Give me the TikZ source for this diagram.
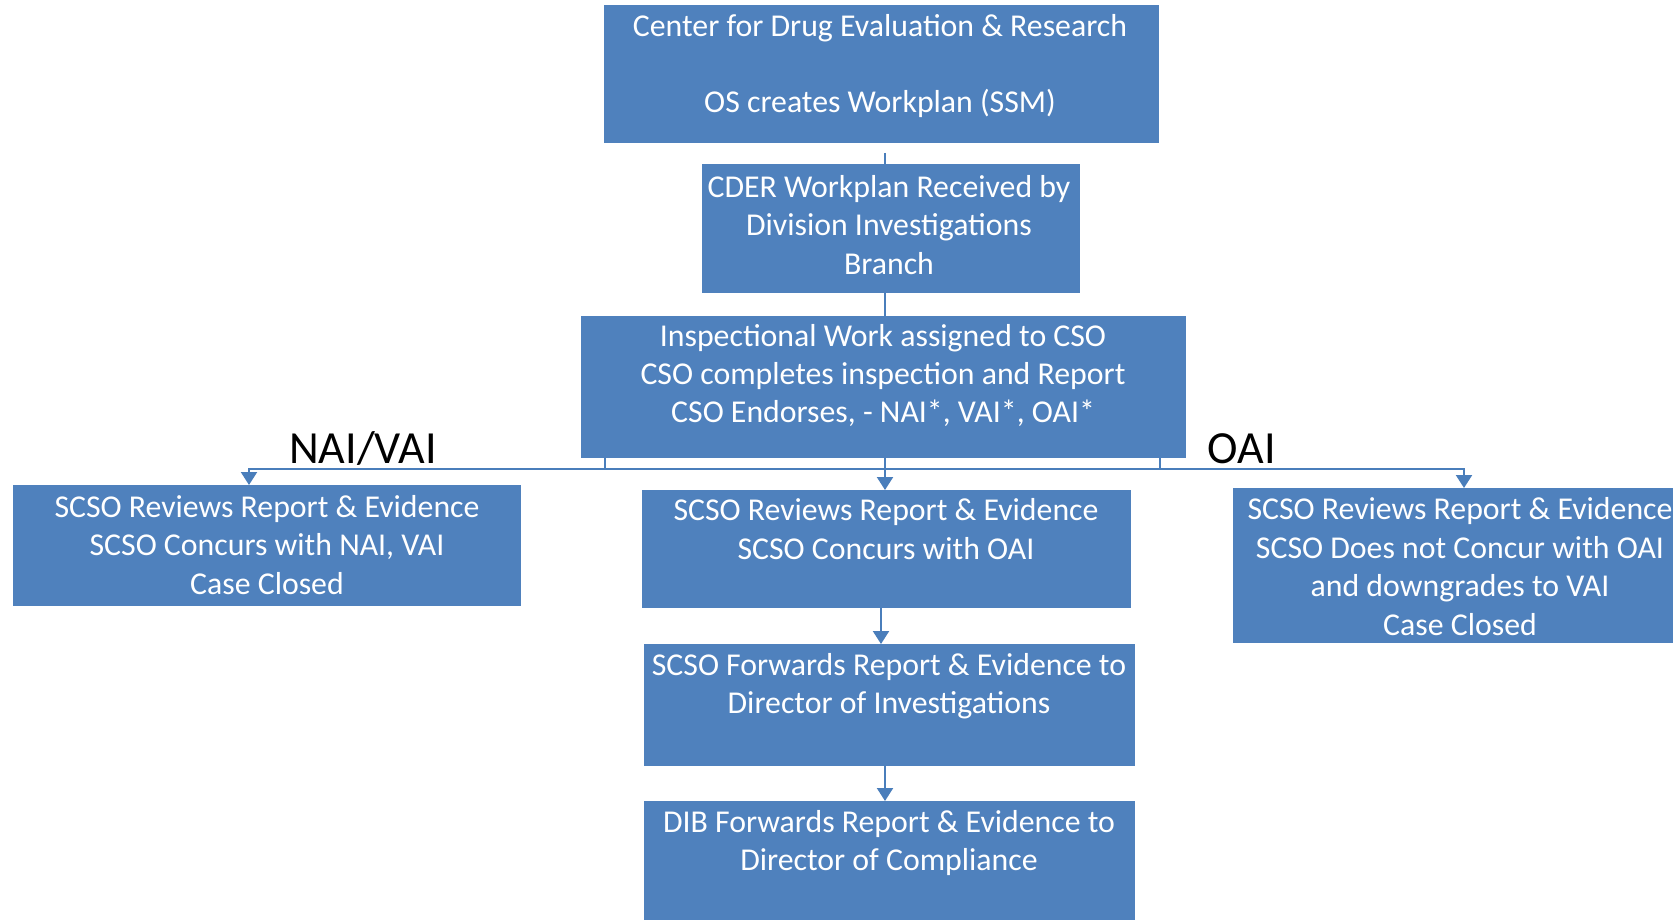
\documentclass[tikz,border=0pt]{standalone}
\usepackage{fontspec}
\setmainfont{Carlito}
\usetikzlibrary{arrows.meta}
\definecolor{boxblue}{HTML}{4F81BD}
\definecolor{lineblue}{HTML}{4A7EBB}
\begin{document}
\begin{tikzpicture}[x=1pt,y=-1pt,
  box/.style={fill=boxblue, draw=none, inner sep=0pt, outer sep=0pt},
  txt/.style={text=white, align=center, inner sep=0pt, font=\fontsize{31.8}{38.4}\selectfont},
  lbl/.style={text=black, inner sep=0pt, anchor=base, font=\fontsize{46}{50}\selectfont},
  conn/.style={draw=lineblue, line width=2.2pt},
  arr/.style={conn, -{Triangle[width=16pt,length=13pt]}}]
\useasboundingbox (0,0) rectangle (1673,920);
\begin{scope}
\clip (0,0) rectangle (1673,920);
\coordinate (jl) at (249,469);
\coordinate (jr) at (1464,469);
\coordinate (sl) at (605,458);
\coordinate (sr) at (1160,458);
% boxes
\node[box, minimum width=555pt, minimum height=138pt] (b1) at (881.5,74) {};
\node[box, minimum width=378pt, minimum height=129pt] (b2) at (891,228.5) {};
\node[box, minimum width=605pt, minimum height=142pt] (b3) at (883.5,387) {};
\node[box, minimum width=508pt, minimum height=121pt] (b4) at (267,545.5) {};
\node[box, minimum width=489pt, minimum height=118pt] (b5) at (886.5,549) {};
\node[box, minimum width=467pt, minimum height=155pt] (b6) at (1466.5,565.5) {};
\node[box, minimum width=491pt, minimum height=122pt] (b7) at (889.5,705) {};
\node[box, minimum width=491pt, minimum height=129pt] (b8) at (889.5,865.5) {};
% connectors
\draw[conn] ([yshift=-10pt]b1.south -| 885,0) -- (b2.north -| 885,0);
\draw[conn] (b2.south -| 885,0) -- (b3.north -| 885,0);
\draw[arr] (b3.south -| sr) |- (jl) -- (b4.north -| jl);
\draw[arr] (b3.south -| sl) |- (jr) -- (b6.north -| jr);
\draw[arr] (b3.south -| 885,0) -- (b5.north -| 885,0);
\draw[arr] (b5.south -| 881,0) -- (b7.north -| 881,0);
\draw[arr] (b7.south -| 885,0) -- (b8.north -| 885,0);
% texts
\node[txt] (t1) at (880,66) {Center for Drug Evaluation \& Research\\ ~ \\ OS creates Workplan (SSM)};
\node[txt] (t2) at (889,225) {CDER Workplan Received by\\ Division Investigations\\ Branch};
\node[txt] (t3) at (883,375.5) {Inspectional Work assigned to CSO\\ CSO completes inspection and Report\\ CSO Endorses, - NAI*, VAI*, OAI*};
\node[txt] (t4) at (267,545) {SCSO Reviews Report \& Evidence\\ SCSO Concurs with NAI, VAI\\ Case Closed};
\node[txt] (t5) at (886,529) {SCSO Reviews Report \& Evidence\\ SCSO Concurs with OAI};
\node[txt] (t6) at (1460,566.5) {SCSO Reviews Report \& Evidence\\ SCSO Does not Concur with OAI\\ and downgrades to VAI\\ Case Closed};
\node[txt] (t7) at (889,686) {SCSO Forwards Report \& Evidence to\\ Director of Investigations};
\node[txt] (t8) at (889,843) {DIB Forwards Report \& Evidence to\\ Director of Compliance};
% labels
\node[lbl] (l1) at (363,463) {NAI/VAI};
\node[lbl] (l2) at (1242,463) {OAI};
\end{scope}
\end{tikzpicture}
\end{document}
